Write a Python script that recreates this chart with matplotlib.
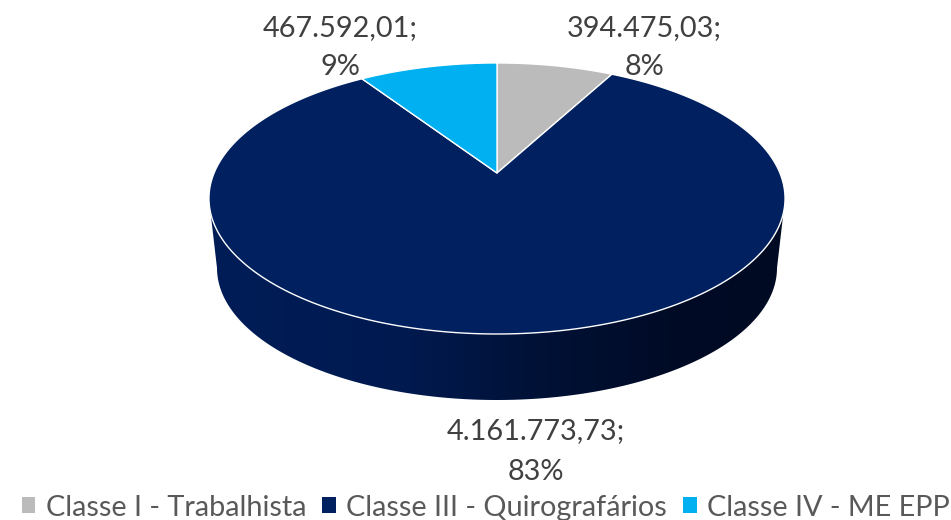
import numpy as np
import matplotlib
matplotlib.use("Agg")
import matplotlib.pyplot as plt
from matplotlib.patches import Polygon, Patch
from matplotlib.colors import LinearSegmentedColormap

categories = ["Classe I - Trabalhista", "Classe III - Quirografários", "Classe IV - ME EPP"]
values = [394475.03, 4161773.73, 467592.01]
percent_labels = ["8%", "83%", "9%"]
colors = ["#BBBBBB", "#002060", "#00B0F0"]
value_labels = ["394.475,03;", "4.161.773,73;", "467.592,01;"]

FONT = "Lato"
plt.rcParams["font.family"] = [FONT, "DejaVu Sans"]

fig = plt.figure(figsize=(9.51, 5.2), dpi=100)
ax = fig.add_axes([0, 0, 1, 1])
ax.set_xlim(0, 951)
ax.set_ylim(520, 0)
ax.axis("off")

# perspective projection of the unit disc onto the page
CX, K, A, B, C = 497.0, 282.9, -98.2, 173.0, 0.188


def project(theta, r=1.0):
    u = r * np.sin(theta)
    v = r * np.cos(theta)
    d = 1 + C * v
    return CX + K * u / d, (A * v + B) / d


# extruded side, drawn under the top face
t = np.linspace(np.pi / 2, 3 * np.pi / 2, 200)
bx = CX + 280 * np.sin(t)
by = 268 - 132 * np.cos(t)
side = np.column_stack([
    np.r_[783.5, bx, 210.5],
    np.r_[212, by, 212],
])
side_patch = Polygon(side, closed=True, facecolor="none", edgecolor="none")
ax.add_patch(side_patch)
cmap = LinearSegmentedColormap.from_list(
    "side",
    [(0.0, "#001D58"), (0.33, "#001A50"), (0.55, "#001238"), (0.8, "#000B26"), (1.0, "#000A22")],
)
im = ax.imshow(np.linspace(0, 1, 400)[None, :], extent=[210, 784, 410, 200], cmap=cmap,
               aspect="auto", zorder=1)
im.set_clip_path(side_patch)
ax.set_xlim(0, 951)
ax.set_ylim(520, 0)

# top faces, clockwise from twelve o'clock
fractions = np.array(values) / np.sum(values)
start = 0.0
for frac, col in zip(fractions, colors):
    th = np.linspace(start, start + 2 * np.pi * frac, 300)
    ex, ey = project(th)
    ax.add_patch(Polygon(np.column_stack([np.r_[CX, ex], np.r_[B, ey]]), closed=True,
                         facecolor=col, edgecolor="#FFFFFF", linewidth=1.0, zorder=2,
                         joinstyle="round"))
    start += 2 * np.pi * frac

# data labels
label_pos = [(644.5, 28, 67), (536, 431, 472), (340, 28, 67)]
for (x, y1, y2), vl, pl in zip(label_pos, value_labels, percent_labels):
    ax.text(x, y1, vl, ha="center", va="center", fontsize=20.8, color="#404040", zorder=3)
    ax.text(x, y2, pl, ha="center", va="center", fontsize=20.8, color="#404040", zorder=3)

handles = [Patch(facecolor=c, edgecolor="none") for c in colors]
fig.legend(handles, categories, ncol=3, loc="lower center", bbox_to_anchor=(0.511, -0.001),
           frameon=False, fontsize=20.8, labelcolor="#595959", handlelength=0.47, handleheight=0.47,
           handletextpad=0.36, columnspacing=0.56, borderpad=0, borderaxespad=0)

fig.savefig("out.png", dpi=100)
